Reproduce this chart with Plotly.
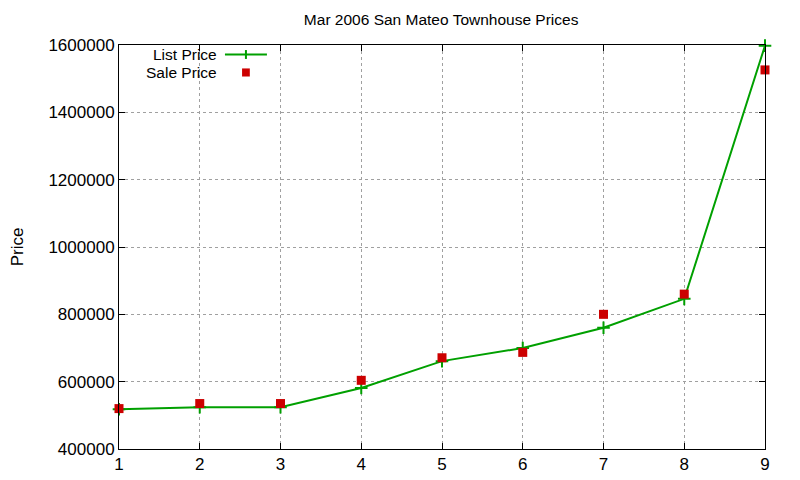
import plotly.graph_objects as go

x_vals = [1, 2, 3, 4, 5, 6, 7, 8, 9]
list_price = [518000, 524000, 524000, 581000, 661000, 700000, 760000, 846000, 1598000]
sale_price = [520000, 535000, 535000, 604000, 671000, 687000, 800000, 860000, 1526000]
y_ticks = [400000, 600000, 800000, 1000000, 1200000, 1400000, 1600000]

GREEN = "#00a000"
RED = "#cc0000"
FONT = "Liberation Sans, Arial, sans-serif"
FS = 15.5
TFS = 17

fig = go.Figure()
fig.add_trace(go.Scatter(
    x=x_vals, y=list_price, mode="lines+markers", name="List Price",
    line=dict(color=GREEN, width=2),
    marker=dict(symbol="cross-thin", size=9, line=dict(color=GREEN, width=2), color=GREEN),
    cliponaxis=False,
))
fig.add_trace(go.Scatter(
    x=x_vals, y=sale_price, mode="markers", name="Sale Price",
    marker=dict(symbol="square", size=9, color=RED),
    cliponaxis=False,
))

# gnuplot-style legend (text right-aligned, sample to its right)
LY1, LY2 = 0.9765, 0.932
fig.add_annotation(xref="paper", yref="paper", x=0.155, y=LY1, text="List Price",
                   showarrow=False, xanchor="right", yanchor="middle", height=15,
                   font=dict(family=FONT, size=FS, color="black"))
fig.add_annotation(xref="paper", yref="paper", x=0.155, y=LY2, text="Sale Price",
                   showarrow=False, xanchor="right", yanchor="middle", height=15,
                   font=dict(family=FONT, size=FS, color="black"))
fig.add_shape(type="line", xref="paper", yref="paper", x0=0.164, x1=0.229, y0=LY1, y1=LY1,
              line=dict(color=GREEN, width=2))
fig.add_shape(type="line", xref="paper", yref="paper", x0=0.1965, x1=0.1965,
              y0=LY1 - 0.011, y1=LY1 + 0.011, line=dict(color=GREEN, width=2))
fig.add_shape(type="rect", xref="paper", yref="paper", x0=0.1905, x1=0.2025,
              y0=LY2 - 0.01, y1=LY2 + 0.01, line=dict(width=0), fillcolor=RED)

fig.update_layout(
    width=784, height=472,
    margin=dict(l=111, r=27, t=37, b=31, autoexpand=False),
    paper_bgcolor="white", plot_bgcolor="white",
    showlegend=False,
    font=dict(family=FONT, size=FS, color="black"),
    title=dict(text="Mar 2006 San Mateo Townhouse Prices", x=0.5525, xanchor="center",
               y=1 - 12 / 472, yanchor="middle", font=dict(family=FONT, size=FS, color="black")),
)
fig.update_xaxes(
    range=[1, 9], tickvals=x_vals, ticks="inside", ticklen=6, tickcolor="black",
    showline=True, linecolor="black", linewidth=1, mirror="ticks",
    showgrid=True, gridcolor="#a0a0a0", griddash="dot", gridwidth=1,
    zeroline=False, tickfont=dict(size=TFS), automargin=False,
)
fig.update_yaxes(
    range=[400000, 1600000], tickvals=y_ticks, ticktext=[str(v) for v in y_ticks],
    ticks="inside", ticklen=6, tickcolor="black",
    showline=True, linecolor="black", linewidth=1, mirror="ticks",
    showgrid=True, gridcolor="#a0a0a0", griddash="dot", gridwidth=1,
    zeroline=False, tickfont=dict(size=TFS), automargin=False,
    title=dict(text="Price", standoff=41, font=dict(size=TFS)),
)

fig.write_html("out.html")
